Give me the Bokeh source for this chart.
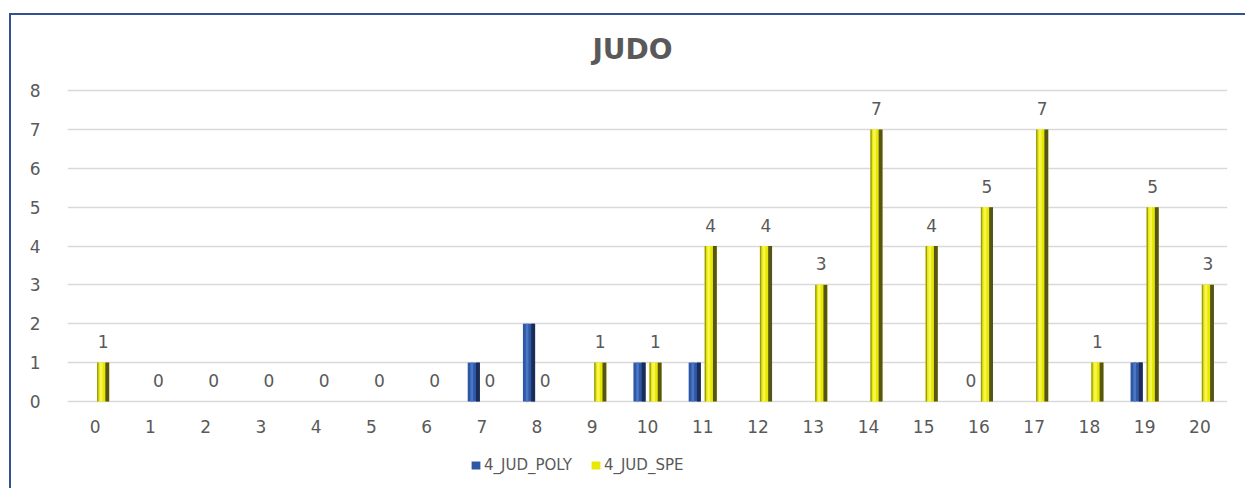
from bokeh.plotting import figure
from bokeh.models import Range1d, FixedTicker, Legend, LegendItem, ColumnDataSource, Label
from bokeh.transform import dodge
from bokeh.core.properties import value
from bokeh.embed import file_html
from bokeh.resources import INLINE

# ---- data ----
categories = list(range(21))
poly = [0, 0, 0, 0, 0, 0, 0, 1, 2, 0, 1, 1, 0, 0, 0, 0, 0, 0, 0, 1, 0]
spe = [1, 0, 0, 0, 0, 0, 0, 0, 0, 1, 1, 4, 4, 3, 7, 4, 5, 7, 1, 5, 3]
poly_labelled = [16]          # categories where the POLY value label is shown
y_ticks = list(range(9))
series_names = ["4_JUD_POLY", "4_JUD_SPE"]
title_text = "JUDO"

FONT = "DejaVu Sans"
GREY = "#595959"

src = ColumnDataSource(dict(
    x=categories, poly=poly, spe=spe,
    spe_lbl=[str(v) for v in spe],
))
pl_src = ColumnDataSource(dict(
    x=[c for c in categories if c in poly_labelled],
    y=[poly[c] for c in categories if c in poly_labelled],
    lbl=[str(poly[c]) for c in categories if c in poly_labelled],
))

# frame spans the full canvas height; the x axis is pinned at y = 0
p = figure(width=1236, height=475, output_backend="svg", toolbar_location=None,
           x_range=Range1d(-0.5, 20.5), y_range=Range1d(-2.29, 9.93),
           min_border_left=56, min_border_right=20, min_border_top=0, min_border_bottom=0,
           background_fill_color="white", border_fill_color="white")
p.outline_line_color = None
p.styles = {"margin-left": "9px", "margin-top": "13px",
            "border-left": "2px solid #34518f", "border-top": "2px solid #34518f"}

# grid / axes
p.xgrid.grid_line_color = None
p.ygrid.grid_line_color = "#D9D9D9"
p.ygrid.grid_line_width = 1.5
p.yaxis.ticker = FixedTicker(ticks=y_ticks)
p.xaxis.ticker = FixedTicker(ticks=categories)
p.xaxis.fixed_location = 0
for ax in (p.xaxis, p.yaxis):
    ax.axis_line_color = None
    ax.major_tick_line_color = None
    ax.minor_tick_line_color = None
    ax.major_label_text_font = FONT
    ax.major_label_text_font_size = "17px"
    ax.major_label_text_color = GREY
p.yaxis.major_label_standoff = 21
p.xaxis.major_label_standoff = 13

OFF = 0.145
W = 0.22
# POLY bars (cylinder look: main + highlight + dark right side)
r_poly = p.vbar(x=dodge("x", -OFF), top="poly", width=W, source=src,
                fill_color="#2E58A6", line_color=None)
p.vbar(x=dodge("x", -OFF + 0.075), top="poly", width=0.07, source=src,
       fill_color="#1C2C55", line_color=None)
p.vbar(x=dodge("x", -OFF - 0.035), top="poly", width=0.05, source=src,
       fill_color="#4A76C4", line_color=None)
# SPE bars
r_spe = p.vbar(x=dodge("x", OFF), top="spe", width=W, source=src,
               fill_color="#E8E800", line_color=None)
p.vbar(x=dodge("x", OFF + 0.075), top="spe", width=0.07, source=src,
       fill_color="#55551A", line_color=None)
p.vbar(x=dodge("x", OFF - 0.0975), top="spe", width=0.025, source=src,
       fill_color="#9A9A20", line_color=None)
p.vbar(x=dodge("x", OFF - 0.035), top="spe", width=0.05, source=src,
       fill_color="#F6F650", line_color=None)

# value labels
p.text(x=dodge("x", OFF), y="spe", text="spe_lbl", source=src,
       text_font=value(FONT), text_font_size="17px", text_color=GREY,
       text_align="center", text_baseline="middle", y_offset=-21)
p.text(x=dodge("x", -OFF), y="y", text="lbl", source=pl_src,
       text_font=value(FONT), text_font_size="17px", text_color=GREY,
       text_align="center", text_baseline="middle", y_offset=-21)

# title
p.add_layout(Label(x=10, y=9.05, text=title_text, x_offset=-15,
                   text_font=FONT, text_font_size="28px", text_font_style="bold",
                   text_color=GREY, text_align="center", text_baseline="middle"))

legend = Legend(items=[LegendItem(label=series_names[0], renderers=[r_poly]),
                       LegendItem(label=series_names[1], renderers=[r_spe])],
                orientation="horizontal", location=(403, 16),
                glyph_width=11, glyph_height=10, label_standoff=3, spacing=18,
                padding=0, margin=0, border_line_color=None,
                background_fill_alpha=0,
                label_text_font=FONT, label_text_font_size="15px",
                label_text_color=GREY)
p.add_layout(legend, "center")

open("out.html", "w").write(file_html(p, INLINE))
